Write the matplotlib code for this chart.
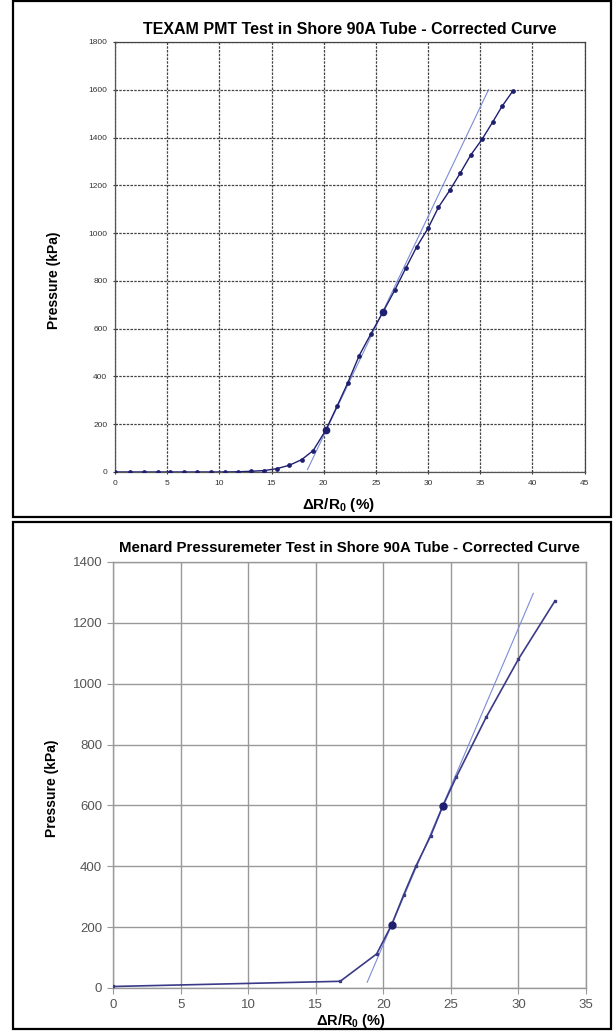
import matplotlib
matplotlib.use("Agg")
import matplotlib.pyplot as plt
from matplotlib.patches import Rectangle

plt.rcParams['font.family'] = ['Liberation Sans', 'DejaVu Sans']
plt.rcParams['mathtext.fontset'] = 'custom'
plt.rcParams['mathtext.rm'] = 'Liberation Sans:bold'
plt.rcParams['mathtext.default'] = 'rm'

# TEXAM PMT test (top)
top_x = [0, 1.4, 2.75, 4.1, 5.3, 6.6, 7.9, 9.2, 10.5, 11.8, 13.0, 14.3, 15.5, 16.7,
         17.9, 19.0, 20.2, 21.3, 22.3, 23.4, 24.5, 25.7, 26.8, 27.9, 28.9, 30.0,
         31.0, 32.1, 33.1, 34.1, 35.2, 36.2, 37.1, 38.1]
top_p = [0, 0, 0, 0, 0, 0, 0, 0, 0, 1, 3, 6, 14, 28, 52, 90, 175, 277, 372, 487,
         576, 671, 760, 856, 941, 1020, 1108, 1180, 1252, 1327, 1394, 1465, 1531, 1593]
top_key_x = [20.2, 25.7]
top_key_p = [175, 671]
top_tan_x = [18.45, 35.8]
top_tan_p = [10, 1600]

# Menard pressuremeter test (bottom)
bot_x = [0, 16.8, 19.5, 20.6, 21.5, 22.4, 23.5, 24.4, 25.4, 27.6, 30.0, 32.7]
bot_p = [5, 22, 112, 207, 306, 400, 500, 598, 694, 889, 1081, 1272]
bot_key_x = [20.6, 24.4]
bot_key_p = [207, 598]
bot_tan_x = [18.8, 31.1]
bot_tan_p = [19, 1297]

W, H = 614, 1031
fig = plt.figure(figsize=(W / 100, H / 100), dpi=100)

def box(x0, y0, x1, y1):
    # pixel coords from top-left -> figure fraction
    return [x0 / W, 1 - y1 / H, (x1 - x0) / W, (y1 - y0) / H]

# panel frames
for y0, y1 in [(1, 517), (522, 1029)]:
    l, b, w, h = box(13, y0, 611, y1)
    fig.patches.append(Rectangle((l, b), w, h, transform=fig.transFigure,
                                 fill=False, ec='black', lw=1.6))

xlab = r'ΔR/R$_0$ (%)'
line_c = '#1f1f70'
tan_c = '#7b8cd6'

# ---- top chart ----
ax1 = fig.add_axes(box(115, 42, 584.5, 472))
ax1.plot(top_tan_x, top_tan_p, color=tan_c, lw=0.8, zorder=3)
ax1.plot(top_x, top_p, color=line_c, lw=1.0, marker='o', ms=2.4, zorder=4)
ax1.plot(top_key_x, top_key_p, 'o', color=line_c, ms=4.5, zorder=5)
ax1.set_xlim(0, 45)
ax1.set_ylim(0, 1800)
ax1.set_xticks(range(0, 46, 5))
ax1.set_yticks(range(0, 1801, 200))
ax1.grid(True, color='#444444', lw=0.9, ls=(0, (2, 1)))
for s in ['top', 'right']:
    ax1.spines[s].set_color('#444444')
    ax1.spines[s].set_linestyle((0, (2, 1)))
    ax1.spines[s].set_linewidth(0.9)
for s in ['left', 'bottom']:
    ax1.spines[s].set_color('#555555')
    ax1.spines[s].set_linewidth(0.9)
ax1.tick_params(labelsize=6, colors='#333333', length=3, direction='inout', pad=4)
ax1.set_title('TEXAM PMT Test in Shore 90A Tube - Corrected Curve',
              fontsize=11.5, fontweight='bold', pad=6)
ax1.set_ylabel('Pressure (kPa)', fontsize=10, fontweight='bold')
ax1.yaxis.set_label_coords(-0.115, 0.445)
ax1.set_xlabel(xlab, fontsize=11, fontweight='bold')
ax1.xaxis.set_label_coords(0.475, -0.056)

# ---- bottom chart ----
ax2 = fig.add_axes(box(113.3, 562, 586, 988))
ax2.plot(bot_tan_x, bot_tan_p, color=tan_c, lw=0.8, zorder=3)
ax2.plot(bot_x, bot_p, color='#3a3a88', lw=1.2, marker='s', ms=2, zorder=4)
ax2.plot(bot_key_x, bot_key_p, 'o', color=line_c, ms=5, zorder=5)
ax2.set_xlim(0, 35)
ax2.set_ylim(0, 1400)
ax2.set_xticks(range(0, 36, 5))
ax2.set_yticks(range(0, 1401, 200))
ax2.grid(True, color='#999999', lw=1.0)
for s in ax2.spines.values():
    s.set_color('#999999')
    s.set_linewidth(1.0)
ax2.tick_params(labelsize=9.5, colors='#999999', labelcolor='#555555', length=4, pad=4)
ax2.set_title('Menard Pressuremeter Test in Shore 90A Tube - Corrected Curve',
              fontsize=10.8, fontweight='bold', pad=7)
ax2.set_ylabel('Pressure (kPa)', fontsize=10, fontweight='bold')
ax2.yaxis.set_label_coords(-0.115, 0.47)
ax2.set_xlabel(xlab, fontsize=10.5, fontweight='bold')
ax2.xaxis.set_label_coords(0.503, -0.057)

fig.savefig('out.png', dpi=100)
